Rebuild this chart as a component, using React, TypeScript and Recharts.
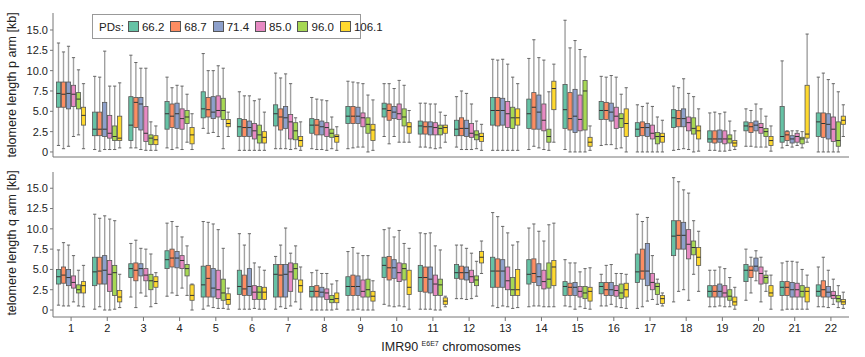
import { BarChart, Bar, XAxis, YAxis } from 'recharts';

const chromosomes = ['1', '2', '3', '4', '5', '6', '7', '8', '9', '10', '11', '12', '13', '14', '15', '16', '17', '18', '19', '20', '21', '22'];
const pds = ['66.2', '68.7', '71.4', '85.0', '96.0', '106.1'];
const colors = ['#66c2a5', '#fc8d62', '#8da0cb', '#e78ac3', '#a6d854', '#ffd92f'];
const yTicks = [0, 2.5, 5, 7.5, 10, 12.5, 15];

// each entry: [min, q1, median, q3, max] in kb, one per chromosome
const pArm662 = [
    [0.8, 5.5, 7.2, 8.6, 13.4], [0.3, 2.0, 2.8, 4.9, 9.3], [0.5, 1.4, 3.3, 6.8, 11.9], [0.5, 2.8, 4.7, 6.2, 9.2],
    [2.9, 4.2, 5.3, 7.4, 12.1], [0.2, 1.9, 3.1, 4.1, 7.4], [0.4, 3.2, 4.7, 5.8, 9.7], [0.4, 2.3, 3.3, 4.1, 6.7],
    [0.4, 3.5, 4.4, 5.6, 8.7], [1.9, 4.3, 5.3, 6.0, 8.4], [0.6, 2.2, 3.2, 3.8, 6.0], [0.6, 2.0, 2.8, 3.9, 6.8],
    [0.2, 3.3, 5.1, 6.7, 11.4], [0.3, 2.9, 4.7, 6.5, 11.5], [0.3, 2.9, 5.2, 8.3, 16.2], [0.8, 4.0, 5.1, 6.2, 9.3],
    [0.0, 1.9, 2.8, 3.6, 5.8], [0.2, 3.0, 4.2, 5.2, 8.1], [0.2, 1.2, 1.6, 2.6, 4.8], [0.7, 2.6, 3.2, 3.7, 5.3],
    [0.5, 1.2, 1.9, 5.6, 11.2], [0.0, 1.9, 3.7, 4.8, 9.2],
];
const pArm687 = [
    [0.4, 5.5, 7.1, 8.6, 12.3], [0.1, 2.0, 2.8, 4.9, 9.2], [0.5, 3.0, 6.1, 6.7, 11.0], [0.3, 3.0, 4.4, 5.9, 7.9],
    [2.3, 4.3, 5.2, 6.7, 10.0], [0.2, 1.9, 3.0, 4.0, 6.9], [0.4, 2.7, 4.3, 5.3, 9.1], [0.3, 2.1, 3.3, 4.0, 6.5],
    [0.5, 3.5, 4.4, 5.6, 8.6], [1.0, 3.9, 5.1, 5.9, 8.4], [0.6, 2.2, 3.1, 3.7, 6.0], [0.3, 2.0, 2.9, 4.2, 7.5],
    [0.2, 3.2, 5.1, 6.7, 11.3], [0.7, 2.8, 5.5, 7.3, 13.8], [0.0, 2.7, 4.1, 7.3, 12.8], [0.9, 4.0, 5.1, 6.1, 9.2],
    [0.0, 2.0, 3.0, 3.7, 5.6], [0.3, 3.1, 4.1, 5.1, 7.9], [0.2, 1.1, 1.6, 2.6, 4.9], [0.7, 2.4, 3.1, 3.6, 5.1],
    [0.8, 1.4, 2.1, 2.5, 2.6], [0.0, 1.8, 3.5, 4.8, 9.7],
];
const pArm714 = [
    [0.7, 5.3, 7.2, 8.6, 13.0], [0.3, 1.9, 2.8, 6.1, 12.4], [0.3, 2.7, 5.9, 6.7, 10.3], [0.5, 2.9, 4.7, 6.0, 8.2],
    [2.4, 4.1, 4.9, 6.8, 10.0], [0.2, 1.9, 3.0, 3.8, 6.9], [0.4, 2.9, 4.2, 5.6, 9.6], [0.3, 2.1, 3.1, 3.8, 6.4],
    [0.6, 3.5, 4.4, 5.5, 8.5], [1.9, 4.1, 4.9, 5.6, 7.8], [0.5, 2.1, 3.1, 3.7, 5.9], [0.3, 1.9, 2.9, 3.9, 7.2],
    [0.2, 3.3, 5.1, 6.6, 11.4], [0.5, 2.8, 4.9, 7.0, 11.6], [0.0, 2.4, 4.4, 7.7, 13.7], [0.9, 3.8, 4.9, 6.0, 9.4],
    [0.0, 1.9, 3.0, 3.5, 6.0], [0.4, 3.1, 4.1, 5.3, 9.0], [0.1, 1.2, 1.6, 2.7, 4.7], [0.6, 2.6, 3.3, 3.8, 5.9],
    [0.6, 1.1, 1.6, 2.0, 2.6], [0.0, 1.6, 3.4, 4.7, 8.9],
];
const pArm850 = [
    [1.9, 5.6, 7.1, 8.2, 11.6], [0.3, 1.7, 2.3, 4.5, 8.1], [0.2, 1.3, 2.3, 5.6, 10.3], [0.3, 2.8, 4.1, 5.3, 8.1],
    [1.9, 4.3, 5.1, 6.9, 10.6], [0.2, 1.6, 2.6, 3.5, 6.3], [0.3, 1.6, 3.7, 4.6, 8.4], [0.2, 1.9, 3.0, 3.6, 6.3],
    [0.6, 3.1, 4.2, 4.8, 8.4], [1.2, 4.0, 4.7, 5.9, 8.8], [0.4, 2.1, 3.0, 3.6, 5.9], [0.3, 1.8, 2.3, 3.5, 5.9],
    [0.2, 3.0, 4.7, 6.2, 10.8], [0.3, 2.6, 3.9, 5.9, 11.3], [0.0, 2.6, 4.0, 7.0, 12.6], [0.4, 2.9, 4.4, 5.5, 9.2],
    [0.0, 1.6, 2.3, 3.3, 5.6], [0.3, 2.6, 3.6, 4.3, 7.2], [0.1, 1.0, 1.6, 2.6, 4.9], [0.6, 2.3, 3.0, 3.5, 5.3],
    [0.8, 1.2, 1.9, 2.3, 2.6], [0.0, 1.3, 2.8, 4.3, 8.4],
];
const pArm960 = [
    [2.1, 5.3, 6.5, 7.3, 10.1], [0.3, 1.4, 1.9, 3.2, 8.1], [0.2, 0.9, 1.7, 2.1, 3.7], [1.2, 3.5, 4.3, 5.1, 7.1],
    [0.4, 4.0, 5.1, 6.6, 10.3], [0.2, 1.1, 2.1, 3.3, 6.5], [0.4, 1.5, 2.6, 3.6, 4.2], [0.4, 1.8, 2.3, 2.8, 4.3],
    [0.0, 2.3, 3.4, 4.2, 7.0], [1.2, 3.2, 4.3, 5.3, 8.2], [0.5, 2.1, 2.9, 3.3, 4.9], [0.4, 1.5, 2.1, 2.6, 3.8],
    [0.2, 2.9, 4.2, 5.5, 9.2], [0.2, 1.2, 1.9, 2.8, 7.4], [0.0, 2.7, 7.5, 8.8, 11.7], [0.5, 3.0, 4.1, 4.7, 7.1],
    [0.0, 1.0, 1.9, 2.4, 4.3], [0.0, 2.2, 2.9, 4.2, 6.8], [0.2, 1.1, 1.6, 2.1, 3.8], [0.6, 1.9, 2.5, 2.9, 4.4],
    [0.5, 1.0, 1.6, 1.8, 2.5], [0.0, 0.7, 1.4, 3.7, 7.4],
];
const pArm1061 = [
    [0.4, 3.3, 4.5, 5.5, 8.4], [0.5, 1.4, 1.7, 4.4, 8.5], [0.2, 0.9, 1.5, 2.0, 3.2], [0.3, 1.0, 2.1, 3.0, 4.7],
    [1.9, 3.1, 3.5, 4.0, 4.9], [0.2, 1.1, 1.8, 2.5, 4.9], [0.2, 0.7, 1.4, 1.9, 3.7], [0.2, 1.2, 1.9, 2.1, 3.1],
    [0.2, 1.4, 2.7, 3.4, 6.4], [1.2, 2.3, 3.1, 3.6, 5.1], [1.2, 2.3, 3.0, 3.3, 4.5], [0.2, 1.3, 1.9, 2.3, 3.4],
    [0.2, 3.3, 4.2, 5.3, 8.4], [1.2, 5.2, 7.8, 8.7, 10.8], [0.2, 0.7, 1.2, 1.8, 3.2], [0.0, 1.9, 3.5, 5.3, 7.9],
    [0.0, 1.2, 1.9, 2.3, 3.9], [0.1, 1.6, 2.6, 3.2, 5.3], [0.3, 0.7, 1.1, 1.4, 2.6], [0.1, 0.8, 1.4, 1.9, 3.2],
    [1.2, 1.7, 2.2, 8.2, 14.5], [1.9, 3.4, 3.9, 4.4, 5.8],
];

const qArm662 = [
    [0.6, 3.2, 4.1, 5.0, 7.4], [0.1, 3.0, 4.7, 6.5, 11.8], [1.6, 4.0, 5.1, 5.7, 8.2], [1.7, 5.1, 6.2, 7.3, 10.7],
    [0.1, 1.6, 3.1, 5.4, 10.9], [0.1, 1.9, 2.9, 4.9, 9.4], [0.1, 1.6, 4.4, 5.6, 6.6], [0.0, 1.6, 2.3, 2.9, 4.6],
    [0.0, 1.8, 2.9, 4.1, 7.2], [0.7, 4.0, 5.5, 6.5, 9.9], [0.1, 2.3, 4.0, 5.5, 9.5], [1.4, 3.9, 4.6, 5.6, 8.0],
    [0.5, 2.8, 4.8, 6.5, 12.0], [0.4, 3.2, 4.4, 6.2, 10.1], [0.5, 1.8, 2.9, 3.5, 6.2], [0.5, 2.0, 2.9, 3.4, 4.4],
    [0.2, 3.4, 4.7, 6.9, 11.8], [1.0, 6.7, 9.1, 11.0, 16.3], [0.4, 1.6, 2.3, 3.0, 4.9], [1.2, 3.5, 4.9, 5.6, 7.5],
    [0.0, 1.8, 2.8, 3.5, 5.8], [0.4, 1.7, 2.3, 3.1, 5.3],
];
const qArm687 = [
    [0.5, 3.3, 4.3, 5.3, 8.3], [0.4, 3.2, 4.8, 6.5, 11.3], [0.3, 3.6, 4.9, 5.8, 8.6], [2.1, 5.3, 6.4, 7.5, 10.9],
    [0.5, 1.6, 3.9, 5.5, 10.8], [0.1, 1.8, 2.6, 4.3, 8.0], [0.4, 1.6, 4.3, 5.6, 8.0], [0.0, 1.6, 2.3, 3.0, 4.9],
    [0.0, 1.8, 2.9, 4.3, 7.7], [0.5, 3.7, 5.2, 6.6, 10.1], [0.1, 2.2, 4.0, 5.3, 9.4], [1.4, 3.8, 4.6, 5.4, 8.0],
    [0.3, 2.8, 4.8, 6.3, 11.5], [0.5, 3.4, 4.5, 6.3, 10.6], [0.4, 1.8, 2.8, 3.3, 5.8], [0.5, 1.8, 2.5, 3.4, 5.5],
    [0.4, 3.8, 4.8, 7.5, 10.9], [2.3, 7.5, 9.2, 11.0, 15.8], [0.4, 1.6, 2.3, 3.0, 4.9], [2.1, 4.0, 4.9, 5.4, 6.5],
    [0.1, 1.8, 2.8, 3.5, 6.0], [0.4, 1.6, 2.5, 3.6, 6.5],
];
const qArm714 = [
    [0.5, 3.0, 4.0, 5.0, 8.0], [0.0, 3.2, 4.9, 6.7, 11.6], [2.1, 4.2, 5.1, 5.7, 7.6], [1.8, 5.2, 6.4, 7.2, 10.3],
    [0.3, 1.6, 2.7, 5.1, 10.6], [0.1, 1.8, 2.9, 5.1, 9.4], [0.2, 1.6, 4.4, 5.6, 10.1], [0.0, 1.6, 2.2, 2.8, 4.5],
    [0.1, 1.8, 2.9, 4.2, 7.0], [0.4, 3.9, 5.2, 6.2, 9.0], [0.1, 2.1, 3.8, 5.3, 9.5], [1.3, 3.7, 4.6, 5.3, 7.6],
    [0.5, 2.8, 4.8, 6.2, 10.3], [0.5, 3.0, 4.1, 5.7, 9.7], [0.1, 1.8, 2.8, 3.4, 5.8], [0.7, 1.8, 2.5, 3.4, 5.6],
    [1.1, 3.0, 4.8, 8.2, 11.4], [2.5, 7.5, 9.2, 10.8, 14.8], [0.5, 1.6, 2.3, 3.2, 5.3], [3.6, 4.8, 5.4, 6.4, 7.3],
    [0.1, 1.6, 2.5, 3.4, 6.0], [0.3, 1.6, 2.2, 2.9, 4.9],
];
const qArm850 = [
    [1.0, 2.7, 3.4, 4.2, 6.7], [0.0, 2.3, 4.4, 6.1, 11.2], [1.7, 3.6, 4.3, 5.1, 7.5], [2.7, 5.1, 6.1, 6.7, 9.0],
    [0.2, 1.4, 2.5, 4.9, 9.9], [0.2, 1.3, 2.2, 3.0, 5.8], [0.5, 2.3, 4.7, 5.8, 7.0], [0.0, 1.3, 2.1, 2.6, 4.5],
    [0.0, 1.6, 2.3, 3.7, 6.7], [0.5, 3.5, 4.6, 5.8, 9.8], [0.0, 1.8, 3.2, 4.3, 7.9], [1.4, 3.4, 4.1, 4.9, 7.0],
    [0.4, 2.5, 3.6, 5.3, 9.5], [0.4, 2.6, 3.5, 4.9, 8.5], [0.4, 1.6, 2.3, 2.9, 4.7], [0.4, 1.7, 2.4, 3.0, 4.5],
    [1.3, 2.5, 3.4, 4.5, 6.7], [1.2, 6.3, 8.1, 9.9, 14.4], [0.4, 1.6, 2.1, 3.0, 5.1], [1.0, 3.2, 4.5, 5.3, 6.5],
    [0.1, 1.6, 2.5, 3.3, 5.9], [0.7, 1.4, 1.8, 2.3, 3.8],
];
const qArm960 = [
    [0.5, 2.1, 2.5, 3.1, 4.9], [0.1, 1.8, 4.6, 5.5, 11.0], [0.4, 2.5, 3.6, 4.4, 6.9], [1.8, 4.2, 5.1, 5.6, 7.9],
    [0.2, 1.2, 2.1, 3.8, 7.6], [0.1, 1.3, 2.2, 2.9, 5.3], [1.0, 3.8, 5.1, 5.7, 7.9], [0.0, 0.9, 1.3, 1.8, 3.2],
    [0.0, 1.6, 2.5, 3.8, 6.7], [0.4, 3.7, 5.1, 5.7, 8.2], [0.0, 1.8, 3.1, 3.8, 7.4], [1.7, 3.0, 3.7, 4.2, 6.0],
    [0.2, 1.8, 2.5, 4.0, 8.0], [0.4, 2.7, 3.8, 5.8, 10.5], [0.2, 1.4, 2.1, 2.9, 5.1], [0.3, 1.4, 2.1, 3.2, 4.5],
    [0.7, 1.9, 2.9, 3.3, 3.8], [4.4, 6.8, 7.7, 8.5, 11.0], [0.4, 1.2, 1.7, 2.5, 4.0], [2.3, 3.3, 4.0, 4.3, 4.8],
    [0.1, 1.6, 2.3, 3.0, 5.0], [0.3, 1.0, 1.4, 1.8, 3.0],
];
const qArm1061 = [
    [0.4, 2.1, 3.0, 3.5, 5.5], [0.3, 1.0, 1.6, 2.4, 4.4], [0.8, 2.8, 3.5, 4.1, 4.6], [0.0, 1.2, 1.8, 3.1, 3.2],
    [0.1, 0.7, 1.3, 2.0, 2.7], [0.1, 1.3, 2.2, 2.8, 4.9], [0.1, 2.2, 3.0, 3.7, 5.3], [0.1, 0.9, 1.4, 2.1, 3.6],
    [0.0, 1.1, 1.7, 2.3, 3.6], [0.1, 1.9, 2.8, 4.9, 7.6], [0.4, 0.7, 1.1, 1.5, 1.7], [4.5, 5.8, 6.5, 7.2, 8.5],
    [0.3, 1.8, 2.5, 5.0, 8.4], [0.4, 3.0, 5.3, 6.1, 10.7], [0.1, 1.1, 2.3, 2.8, 5.2], [0.2, 1.6, 2.5, 3.3, 4.4],
    [0.5, 0.8, 1.4, 1.8, 2.1], [2.3, 5.5, 6.5, 7.7, 9.7], [0.1, 0.6, 1.0, 1.6, 2.8], [0.1, 1.7, 2.1, 3.0, 4.3],
    [0.1, 1.0, 2.3, 2.8, 4.3], [0.2, 0.7, 1.0, 1.3, 2.2],
];

const pArm = [pArm662, pArm687, pArm714, pArm850, pArm960, pArm1061];
const qArm = [qArm662, qArm687, qArm714, qArm850, qArm960, qArm1061];

const FONT = '"Liberation Sans", Arial, Helvetica, sans-serif';

// one row per chromosome; r{j} is the whisker range, s{j} the full five numbers
function buildRows(series: number[][][]) {
    return chromosomes.map((chr, i) => {
        const row: any = { chr };
        series.forEach((s, j) => {
            row[`r${j}`] = [s[i][0], s[i][4]];
            row[`s${j}`] = s[i];
        });
        return row;
    });
}

const pRows = buildRows(pArm);
const qRows = buildRows(qArm);

function BoxShape(props: any) {
    const { x, y, width, height, stats, color } = props;
    if (!stats || height == null) return null;
    const [lo, q1, med, q3, hi] = stats;
    const top = Math.min(y, y + height);
    const k = Math.abs(height) / (hi - lo || 1);
    const py = (v: number) => top + (hi - v) * k;
    const cx = x + width / 2;
    const cap = 1.6;
    return (
        <g>
            <line x1={cx} x2={cx} y1={py(hi)} y2={py(q3)} stroke="#a0a0a0" strokeWidth={1.4} />
            <line x1={cx} x2={cx} y1={py(q1)} y2={py(lo)} stroke="#a0a0a0" strokeWidth={1.4} />
            <line x1={cx - cap} x2={cx + cap} y1={py(hi)} y2={py(hi)} stroke="#666" strokeWidth={1} />
            <line x1={cx - cap} x2={cx + cap} y1={py(lo)} y2={py(lo)} stroke="#666" strokeWidth={1} />
            <rect x={x + 0.4} y={py(q3)} width={width - 0.8} height={Math.max(py(q1) - py(q3), 0.5)}
                fill={color} stroke="#555" strokeWidth={0.8} />
            <line x1={x + 0.4} x2={x + width - 0.4} y1={py(med)} y2={py(med)} stroke="#333" strokeWidth={1} />
        </g>
    );
}

interface PanelProps {
    rows: any[];
    domain: [number, number];
    height: number;
    marginTop: number;
    xHeight: number;
    showXLabels: boolean;
}

function Panel({ rows, domain, height, marginTop, xHeight, showXLabels }: PanelProps) {
    return (
        <BarChart
            width={865}
            height={height}
            data={rows}
            margin={{ top: marginTop, right: 16, bottom: 0, left: 0 }}
            barGap={0}
            barSize={5}
        >
            <XAxis
                dataKey="chr"
                height={xHeight}
                interval={0}
                tickSize={4}
                tickMargin={3}
                axisLine={{ stroke: '#777' }}
                tickLine={{ stroke: '#777' }}
                tick={showXLabels ? { fontSize: 11, fill: '#222', fontFamily: FONT } : false}
            />
            <YAxis
                type="number"
                width={53}
                domain={domain}
                allowDataOverflow
                ticks={yTicks}
                interval={0}
                tickSize={3}
                tickMargin={2}
                axisLine={{ stroke: '#777' }}
                tickLine={{ stroke: '#777' }}
                tick={{ fontSize: 11, fill: '#222', fontFamily: FONT }}
                tickFormatter={(v: number) => (v === 0 ? '0' : v.toFixed(1))}
            />
            {pds.map((pd, j) => (
                <Bar
                    key={pd}
                    dataKey={`r${j}`}
                    isAnimationActive={false}
                    shape={(p: any) => <BoxShape {...p} stats={p.payload[`s${j}`]} color={colors[j]} />}
                />
            ))}
        </BarChart>
    );
}

const axisTitle = (top: number): React.CSSProperties => ({
    position: 'absolute',
    left: 12,
    top,
    transform: 'translate(-50%, -50%) rotate(-90deg)',
    whiteSpace: 'nowrap',
    fontSize: 12.5,
    color: '#222',
});

export default function App() {
    return (
        <div style={{ position: 'absolute', left: 0, top: 0, width: 865, height: 357, background: '#fff', fontFamily: FONT }}>
            <div style={{ position: 'absolute', left: 0, top: 0 }}>
                <Panel rows={pRows} domain={[-0.62, 17.09]} height={165} marginTop={13} xHeight={8} showXLabels={false} />
            </div>
            <div style={{ position: 'absolute', left: 0, top: 160 }}>
                <Panel rows={qRows} domain={[-0.86, 17.0]} height={180} marginTop={12} xHeight={23} showXLabels />
            </div>

            <div style={axisTitle(85)}>telomere length p arm [kb]</div>
            <div style={axisTitle(243)}>telomere length q arm [kb]</div>

            <div style={{ position: 'absolute', left: 451, top: 347, transform: 'translate(-50%, -50%)', whiteSpace: 'nowrap', fontSize: 12.5, color: '#222' }}>
                IMR90 <sup style={{ fontSize: 7, verticalAlign: 5 }}>E6E7</sup> chromosomes
            </div>

            <div style={{
                position: 'absolute', left: 92, top: 14, width: 269, height: 25, boxSizing: 'border-box',
                border: '1px solid #999', background: '#fff', display: 'flex', alignItems: 'center',
                padding: '0 6px', fontSize: 11.5, color: '#222'
            }}>
                <span style={{ marginRight: 4 }}>PDs:</span>
                {pds.map((pd, j) => (
                    <span key={pd} style={{ display: 'flex', alignItems: 'center', marginRight: 6 }}>
                        <span style={{ width: 9, height: 9, background: colors[j], border: '1px solid #555', marginRight: 3 }} />
                        {pd}
                    </span>
                ))}
            </div>
        </div>
    );
}
